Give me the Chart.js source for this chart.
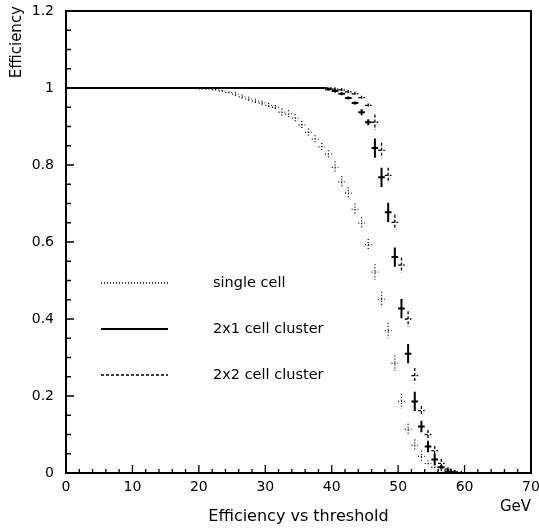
<!DOCTYPE html>
<html>
<head>
<meta charset="utf-8">
<script src="https://cdn.jsdelivr.net/npm/chart.js@4/dist/chart.umd.min.js"></script>
<style>
  html, body { margin: 0; padding: 0; background: #fff; }
  #wrap { width: 539px; height: 529px; position: relative; }
</style>
</head>
<body>
<div id="wrap"><canvas id="c" width="539" height="529"></canvas></div>
<script>
// bin centres (GeV), 1 GeV bins
const binCenters = [
  0.5, 1.5, 2.5, 3.5, 4.5, 5.5, 6.5, 7.5, 8.5, 9.5,
  10.5, 11.5, 12.5, 13.5, 14.5, 15.5, 16.5, 17.5, 18.5, 19.5,
  20.5, 21.5, 22.5, 23.5, 24.5, 25.5, 26.5, 27.5, 28.5, 29.5,
  30.5, 31.5, 32.5, 33.5, 34.5, 35.5, 36.5, 37.5, 38.5, 39.5,
  40.5, 41.5, 42.5, 43.5, 44.5, 45.5, 46.5, 47.5, 48.5, 49.5,
  50.5, 51.5, 52.5, 53.5, 54.5, 55.5, 56.5, 57.5, 58.5, 59.5
];
const binHalfWidth = 0.5;

const singleCell = [
  1, 1, 1, 1, 1, 1, 1, 1, 1, 1,
  1, 1, 1, 1, 1, 1, 1, 1, 1, 1,
  0.998, 0.997, 0.995, 0.992, 0.988, 0.984, 0.977, 0.971, 0.966, 0.961,
  0.955, 0.950, 0.937, 0.932, 0.922, 0.904, 0.885, 0.867, 0.847, 0.828,
  0.794, 0.756, 0.727, 0.685, 0.649, 0.593, 0.522, 0.451, 0.370, 0.285,
  0.186, 0.113, 0.072, 0.043, 0.025, 0.015, 0.007, 0.002, 0, 0
];
const singleCellErr = [
  0, 0, 0, 0, 0, 0, 0, 0, 0, 0,
  0, 0, 0, 0, 0, 0, 0, 0, 0, 0,
  0.003, 0.003, 0.003, 0.003, 0.003, 0.006, 0.006, 0.006, 0.006, 0.006,
  0.006, 0.006, 0.010, 0.010, 0.010, 0.010, 0.010, 0.010, 0.010, 0.010,
  0.015, 0.015, 0.015, 0.015, 0.015, 0.015, 0.020, 0.020, 0.020, 0.020,
  0.020, 0.015, 0.015, 0.015, 0.008, 0.008, 0.008, 0.008, 0, 0
];

const cluster2x1 = [
  1, 1, 1, 1, 1, 1, 1, 1, 1, 1,
  1, 1, 1, 1, 1, 1, 1, 1, 1, 1,
  1, 1, 1, 1, 1, 1, 1, 1, 1, 1,
  1, 1, 1, 1, 1, 1, 1, 1, 1, 0.997,
  0.992, 0.985, 0.974, 0.961, 0.937, 0.911, 0.844, 0.768, 0.677, 0.561,
  0.427, 0.310, 0.186, 0.121, 0.069, 0.035, 0.015, 0.004, 0.001, 0
];
const cluster2x1Err = [
  0, 0, 0, 0, 0, 0, 0, 0, 0, 0,
  0, 0, 0, 0, 0, 0, 0, 0, 0, 0,
  0, 0, 0, 0, 0, 0, 0, 0, 0, 0,
  0, 0, 0, 0, 0, 0, 0, 0, 0, 0.004,
  0.004, 0.004, 0.004, 0.004, 0.008, 0.008, 0.025, 0.025, 0.025, 0.025,
  0.025, 0.025, 0.025, 0.015, 0.015, 0.015, 0.006, 0.006, 0.006, 0
];

const cluster2x2 = [
  1, 1, 1, 1, 1, 1, 1, 1, 1, 1,
  1, 1, 1, 1, 1, 1, 1, 1, 1, 1,
  1, 1, 1, 1, 1, 1, 1, 1, 1, 1,
  1, 1, 1, 1, 1, 1, 1, 1, 1, 1,
  0.997, 0.995, 0.990, 0.985, 0.975, 0.955, 0.911, 0.838, 0.773, 0.651,
  0.540, 0.400, 0.253, 0.162, 0.100, 0.058, 0.025, 0.010, 0.003, 0.001
];
const cluster2x2Err = [
  0, 0, 0, 0, 0, 0, 0, 0, 0, 0,
  0, 0, 0, 0, 0, 0, 0, 0, 0, 0,
  0, 0, 0, 0, 0, 0, 0, 0, 0, 0,
  0, 0, 0, 0, 0, 0, 0, 0, 0, 0,
  0.005, 0.005, 0.005, 0.005, 0.005, 0.005, 0.020, 0.020, 0.020, 0.020,
  0.020, 0.020, 0.020, 0.012, 0.012, 0.012, 0.012, 0.005, 0.005, 0.005
];

const seriesNames = ["single cell", "2x1 cell cluster", "2x2 cell cluster"];
const xTicks = [0, 10, 20, 30, 40, 50, 60, 70];
const yTicks = [0, 0.2, 0.4, 0.6, 0.8, 1, 1.2];

const FONT = "'DejaVu Sans', Verdana, sans-serif";

function toPoints(ys, errs) {
  return ys.map((y, i) => ({ x: binCenters[i], y: y, err: errs[i] }));
}

// draws each point as a histogram cross: x-bin width and y error
const errorBars = {
  id: "errorBars",
  afterDatasetsDraw(chart) {
    const { ctx, chartArea, scales } = chart;
    ctx.save();
    ctx.beginPath();
    ctx.rect(chartArea.left, chartArea.top, chartArea.right - chartArea.left, chartArea.bottom - chartArea.top);
    ctx.clip();
    chart.data.datasets.forEach((ds) => {
      ctx.strokeStyle = "#000";
      ctx.lineWidth = ds.barWidth;
      ctx.setLineDash(ds.dash);
      ds.data.forEach((p) => {
        const xl = scales.x.getPixelForValue(p.x - binHalfWidth);
        const xr = scales.x.getPixelForValue(p.x + binHalfWidth);
        const xc = scales.x.getPixelForValue(p.x);
        const yc = scales.y.getPixelForValue(p.y);
        ctx.beginPath();
        ctx.moveTo(xl, yc);
        ctx.lineTo(xr, yc);
        if (p.err > 0) {
          ctx.moveTo(xc, scales.y.getPixelForValue(p.y + p.err));
          ctx.lineTo(xc, scales.y.getPixelForValue(p.y - p.err));
        }
        ctx.stroke();
      });
    });
    ctx.restore();
  }
};

// frame, inward tick marks, titles and legend
const frame = {
  id: "frame",
  afterDraw(chart) {
    const { ctx, chartArea: a, scales } = chart;
    ctx.save();
    ctx.strokeStyle = "#000";
    ctx.setLineDash([]);
    ctx.lineWidth = 2;
    ctx.strokeRect(a.left, a.top, a.right - a.left, a.bottom - a.top);

    ctx.lineWidth = 1.3;
    ctx.beginPath();
    for (let v = 0; v <= 70; v += 2) {
      const px = scales.x.getPixelForValue(v);
      const len = v % 10 === 0 ? 8 : 4;
      ctx.moveTo(px, a.bottom);
      ctx.lineTo(px, a.bottom - len);
    }
    for (let k = 0; k <= 24; k++) {
      const py = scales.y.getPixelForValue(k * 0.05);
      const len = k % 4 === 0 ? 8 : 5;
      ctx.moveTo(a.left, py);
      ctx.lineTo(a.left + len, py);
    }
    ctx.stroke();

    ctx.fillStyle = "#000";
    ctx.font = "16px " + FONT;
    ctx.textAlign = "center";
    ctx.textBaseline = "middle";
    ctx.fillText("Efficiency vs threshold", (a.left + a.right) / 2, 517);
    ctx.font = "15px " + FONT;
    ctx.textAlign = "right";
    ctx.fillText("GeV", a.right, 507);

    ctx.save();
    ctx.translate(17, 6);
    ctx.rotate(-Math.PI / 2);
    ctx.textAlign = "right";
    ctx.fillText("Efficiency", 0, 0);
    ctx.restore();

    // legend
    const rows = [283, 329, 375];
    ctx.font = "14.5px " + FONT;
    chart.data.datasets.forEach((ds, i) => {
      ctx.lineWidth = ds.barWidth;
      ctx.setLineDash(ds.dash);
      ctx.beginPath();
      ctx.moveTo(101, rows[i]);
      ctx.lineTo(168, rows[i]);
      ctx.stroke();
      ctx.setLineDash([]);
      ctx.textAlign = "left";
      ctx.fillText(seriesNames[i], 213, rows[i]);
    });
    ctx.restore();
  }
};

new Chart(document.getElementById("c"), {
  type: "scatter",
  data: {
    datasets: [
      { label: seriesNames[0], data: toPoints(singleCell, singleCellErr), dash: [1, 2], barWidth: 1.3, pointRadius: 0, showLine: false },
      { label: seriesNames[1], data: toPoints(cluster2x1, cluster2x1Err), dash: [], barWidth: 2, pointRadius: 0, showLine: false },
      { label: seriesNames[2], data: toPoints(cluster2x2, cluster2x2Err), dash: [3, 2], barWidth: 1.3, pointRadius: 0, showLine: false }
    ]
  },
  options: {
    responsive: false,
    animation: false,
    layout: { padding: { left: 0, top: 11, right: 8, bottom: 0 } },
    plugins: { legend: { display: false }, tooltip: { enabled: false } },
    scales: {
      x: {
        type: "linear", min: 0, max: 70,
        afterFit: (s) => { s.height = 56; s.paddingLeft = 0; s.paddingRight = 0; },
        afterBuildTicks: (s) => { s.ticks = xTicks.map((v) => ({ value: v })); },
        ticks: { color: "#000", font: { family: FONT, size: 14 }, padding: 6, maxRotation: 0 },
        grid: { display: false, drawTicks: false },
        border: { display: false }
      },
      y: {
        type: "linear", min: 0, max: 1.2,
        afterFit: (s) => { s.width = 66; s.paddingTop = 0; s.paddingBottom = 0; },
        afterBuildTicks: (s) => { s.ticks = yTicks.map((v) => ({ value: v })); },
        ticks: { color: "#000", font: { family: FONT, size: 14 }, padding: 12,
          callback: (v) => String(Math.round(v * 10) / 10) },
        grid: { display: false, drawTicks: false },
        border: { display: false }
      }
    }
  },
  plugins: [errorBars, frame]
});
</script>
</body>
</html>
